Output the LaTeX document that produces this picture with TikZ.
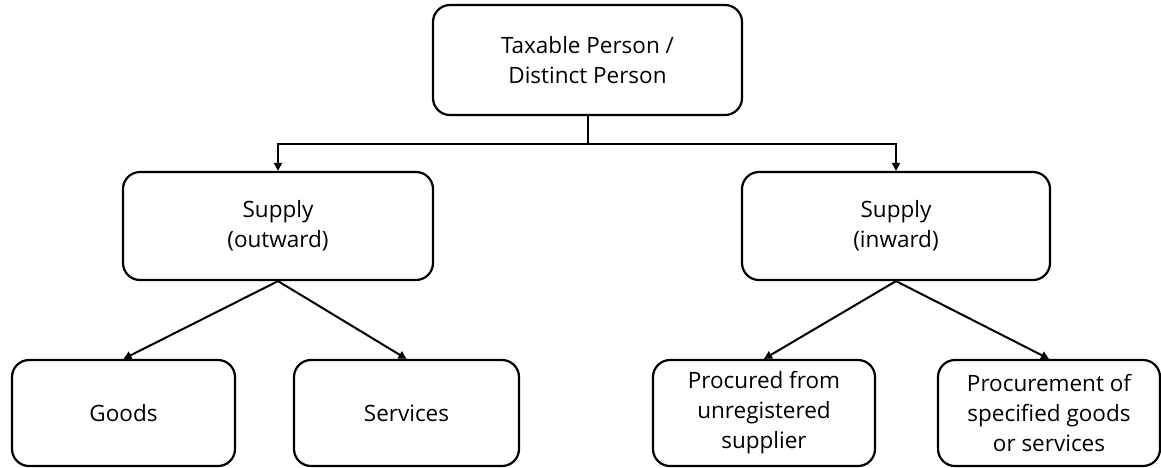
\documentclass[tikz,border=0pt]{standalone}
\usepackage{fontspec}
\setmainfont{Open Sans}
\usetikzlibrary{arrows.meta}

\begin{document}
\begin{tikzpicture}[x=1pt,y=-1pt,
  box/.style={draw, line width=2.2pt, rounded corners=17pt, align=center,
    font=\fontsize{22.5}{30}\selectfont, inner sep=0pt},
  arr/.style={line width=2pt, -{Triangle[length=8pt,width=8pt]}}]
\useasboundingbox (0,0) rectangle (1161,467);

\node[box, minimum width=309, minimum height=110] (person) at (587.5,60) {Taxable Person /\\Distinct Person};
\node[box, minimum width=310, minimum height=108] (outward) at (278,226) {Supply\\(outward)};
\node[box, minimum width=308, minimum height=108] (inward) at (896,226) {Supply\\(inward)};

\node[box, minimum width=223, minimum height=106] (goods) at (123.5,413) {Goods};
\node[box, minimum width=225, minimum height=106] (services) at (406.5,413) {Services};
\node[box, minimum width=222, minimum height=106] (unreg) at (764,413) {Procured from\\unregistered\\supplier};
\node[box, minimum width=222, minimum height=106] (specified) at (1049,413) {Procurement of\\specified goods\\or services};

\draw[arr] (person.south) -- ++(0,28) -| (outward.north);
\draw[arr] (person.south) -- ++(0,28) -| (inward.north);

\draw[arr] (outward.south) -- (goods.north);
\draw[arr] (outward.south) -- (services.north);
\draw[arr] (inward.south) -- (unreg.north);
\draw[arr] (inward.south) -- (specified.north);
\end{tikzpicture}
\end{document}
